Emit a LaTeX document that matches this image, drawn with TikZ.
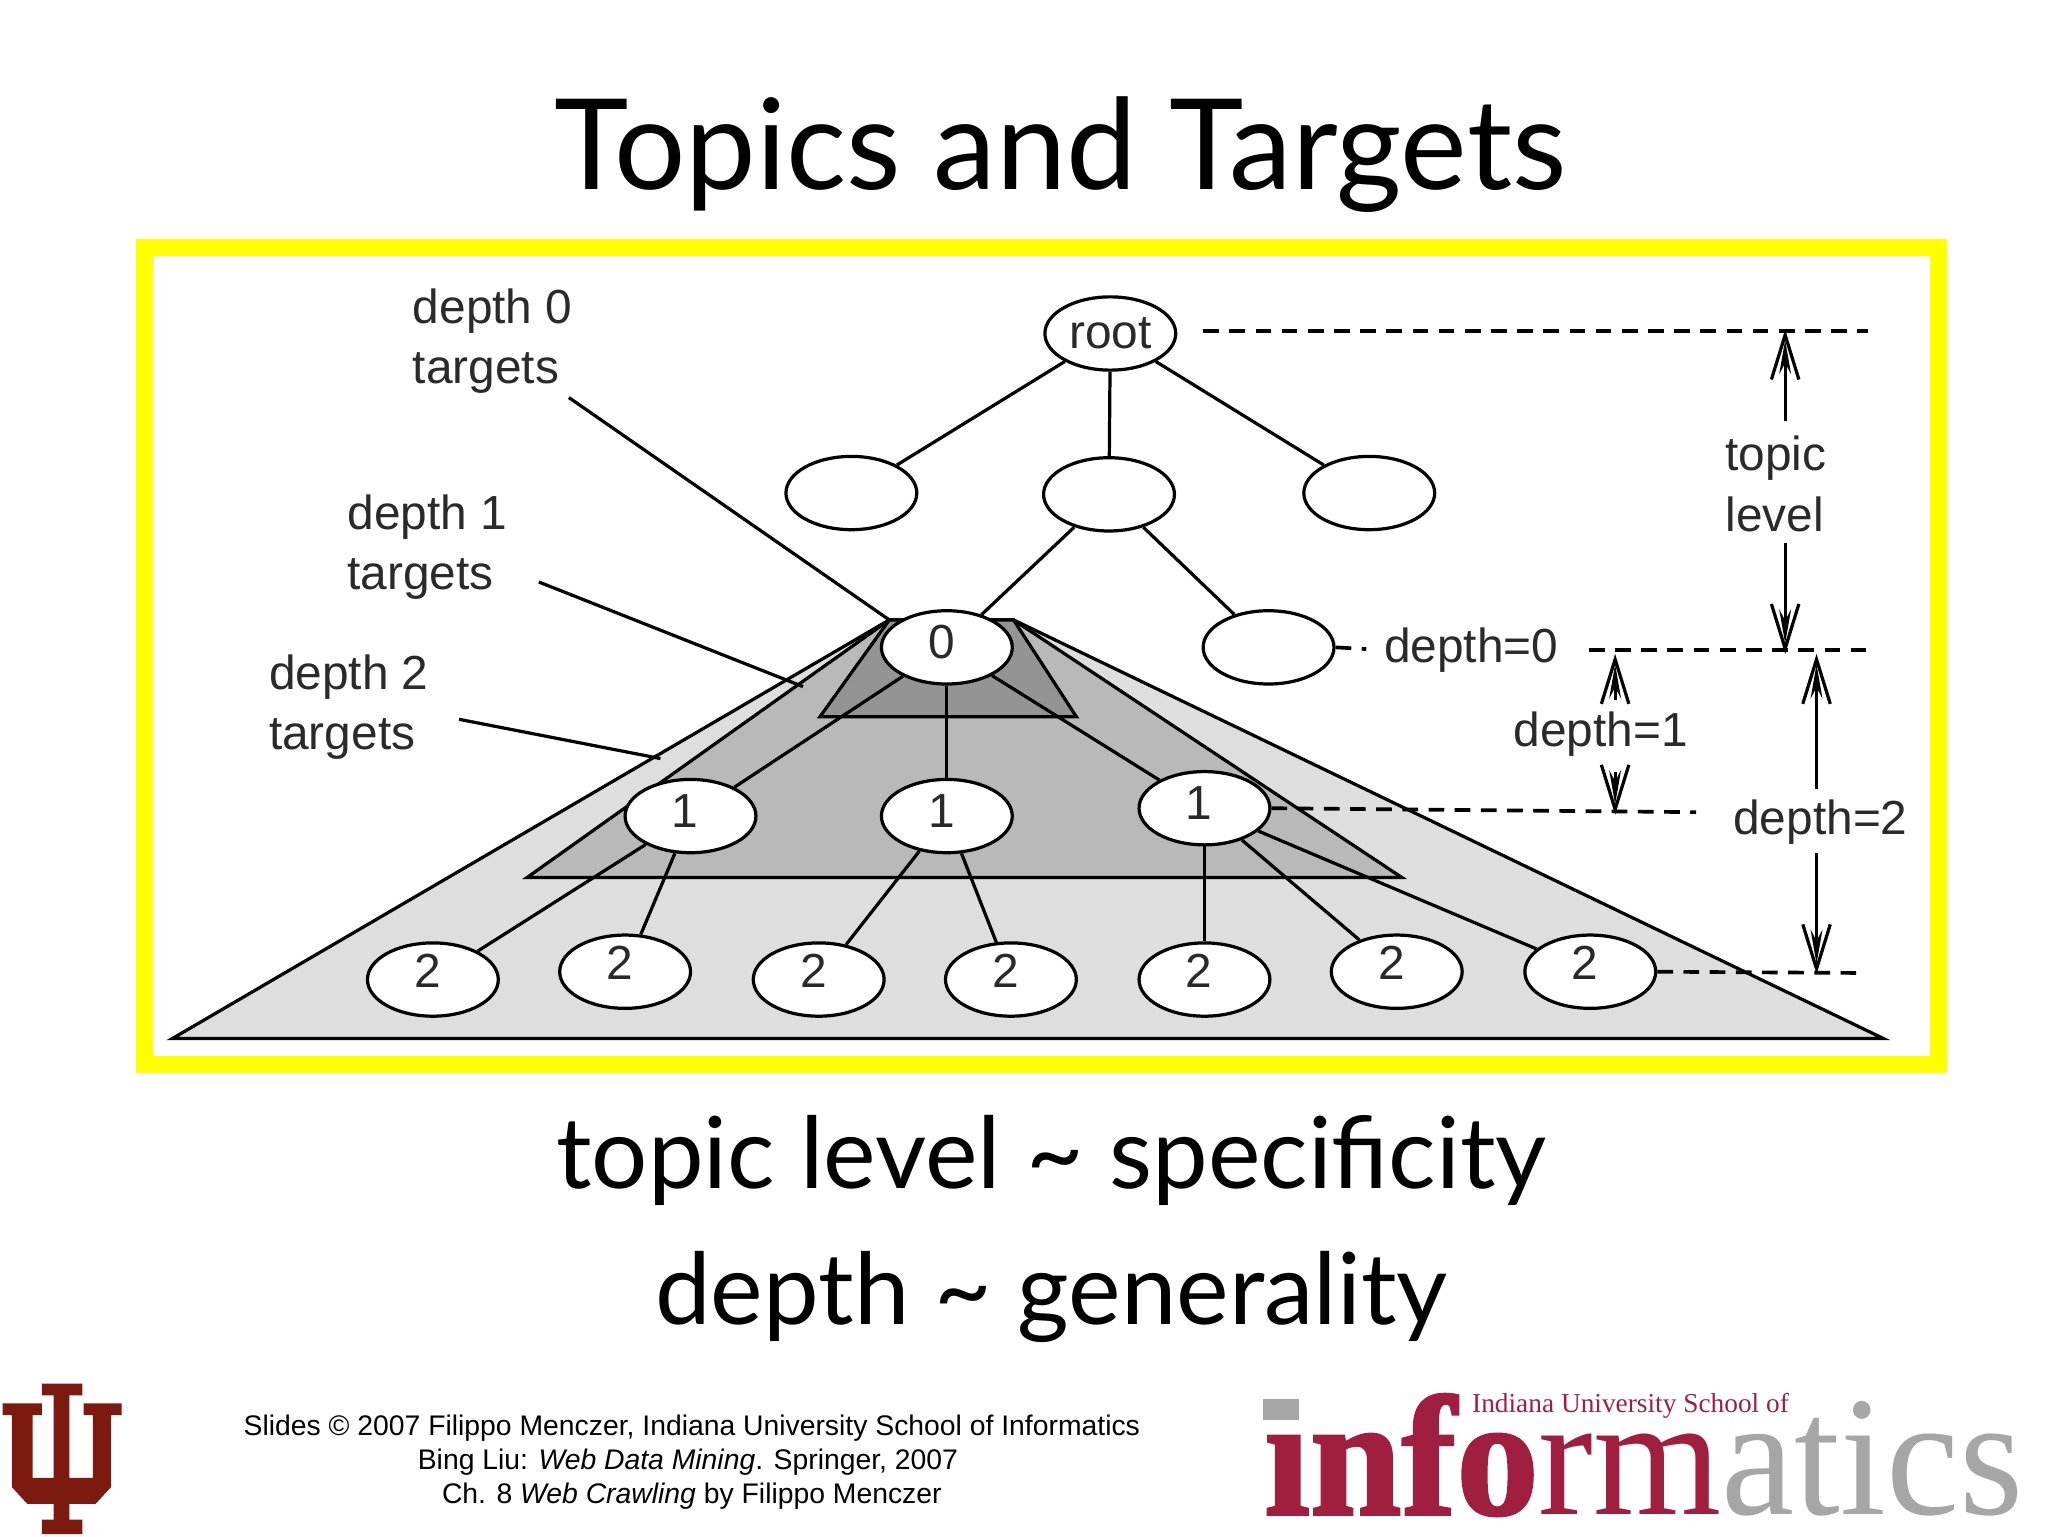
\documentclass[tikz,border=0pt]{standalone}
\usepackage{fontspec}
\usepackage{graphicx}
\setmainfont{Liberation Sans}
\newfontfamily\titlefont{Lato}
\newfontfamily\logofont{Liberation Serif}
\newfontfamily\logoheavy{Liberation Serif Bold}[FakeBold=1.6]
\usetikzlibrary{shapes}
\usetikzlibrary{arrows.meta}
\definecolor{iured}{HTML}{7D1A10}
\definecolor{infored}{HTML}{A01F40}
\definecolor{infogray}{HTML}{A6A6A6}
\definecolor{outergray}{HTML}{DFDEDF}
\definecolor{midgray}{HTML}{B9B9B9}
\definecolor{innergray}{HTML}{949494}
\definecolor{inktext}{HTML}{2A2A2A}
\definecolor{frameyellow}{RGB}{255,255,0}
\newcommand{\nodedigit}[1]{\raisebox{.8mm}{\hspace{-.8mm}#1}}
\newcommand{\nodetwo}{\raisebox{1.3mm}{\hspace{-.8mm}2}}
\tikzset{treenode/.style={ellipse,draw,fill=white,minimum width=1cm,minimum height=.56cm,inner sep=0pt,line width=.7pt,font=\fontsize{10.4}{12}\selectfont,text=inktext},
 treeline/.style={line width=.7pt},
 leader/.style={line width=.7pt},
 level line/.style={line width=.8pt,dash pattern=on 1.2mm off .8mm},
 size arrow/.style={line width=.7pt,-{Straight Barb[length=3.4mm,width=2.1mm,sep=-3.4mm]Stealth[length=2.6mm,width=.9mm]}},
 side text/.style={font=\fontsize{10.4}{13.05}\selectfont,text=inktext,align=left,inner sep=0pt},
 big text/.style={font=\titlefont\fontsize{21.6}{24}\selectfont,inner sep=0pt},
 foot text/.style={font=\fontsize{6.16}{7}\selectfont,inner sep=0pt},
 }

\begin{document}
\begin{tikzpicture}[x=.01cm,y=-.01cm]
        \useasboundingbox (0,0) rectangle (1566,1175);

        \node [big text,font=\titlefont\fontsize{27.4}{30}\selectfont] (title) at (811,118) {Topics and Targets};
        \draw [frameyellow,line width=.13cm] (110.5,189.5) rectangle (1482.5,814);

        % nested target triangles
        \draw [fill=outergray,treeline] (132,794) -- (1440,794) -- (775,474) -- (680,474) -- cycle;
        \draw [fill=midgray,treeline] (403,671) -- (1072,671) -- (775,474) -- (680,474) -- cycle;
        \draw [fill=innergray,treeline] (627,548) -- (823,548) -- (775,474) -- (680,474) -- cycle;

        % topic tree
        \node [treenode] (root) at (849,255) {root};
        \node [treenode] (topicl) at (651,377) {};
        \node [treenode] (topicm) at (848,378) {};
        \node [treenode] (topicr) at (1047,377) {};
        \node [treenode] (topicz) at (970,495) {};
        \node [treenode] (zero) at (724,495) {\nodedigit{0}};
        \node [treenode] (onea) at (528,624) {\nodedigit{1}};
        \node [treenode] (oneb) at (724,624) {\nodedigit{1}};
        \node [treenode] (onec) at (921,618) {\nodedigit{1}};
        \node [treenode] (twoa) at (331,749) {\nodetwo};
        \node [treenode] (twob) at (478,743) {\nodetwo};
        \node [treenode] (twoc) at (626,749) {\nodetwo};
        \node [treenode] (twod) at (773,749) {\nodetwo};
        \node [treenode] (twoe) at (921,749) {\nodetwo};
        \node [treenode] (twof) at (1068,743) {\nodetwo};
        \node [treenode] (twog) at (1216,743) {\nodetwo};

        \draw [treeline] (root) -- (topicl);
        \draw [treeline] (root) -- (topicm);
        \draw [treeline] (root) -- (topicr);
        \draw [treeline] (topicm) -- (zero);
        \draw [treeline] (topicm) -- (topicz);
        \draw [treeline] (zero) -- (onea);
        \draw [treeline] (zero) -- (oneb);
        \draw [treeline] (zero) -- (onec);
        \draw [treeline] (onea) -- (twoa);
        \draw [treeline] (onea) -- (twob);
        \draw [treeline] (oneb) -- (twoc);
        \draw [treeline] (oneb) -- (twod);
        \draw [treeline] (onec) -- (twoe);
        \draw [treeline] (onec) -- (twof);
        \draw [treeline] (onec) -- (twog);

        % target labels
        \node [side text,anchor=west] (depth0) at (315,261) {depth 0\\targets};
        \node [side text,anchor=west] (depth1) at (265,418) {depth 1\\targets};
        \node [side text,anchor=west] (depth2) at (205,541) {depth 2\\targets};
        \coordinate (lead0a) at (435,304);
        \coordinate (lead0b) at (680,474);
        \coordinate (lead1a) at (412,445);
        \coordinate (lead1b) at (614,525);
        \coordinate (lead2a) at (351,550);
        \coordinate (lead2b) at (505,580);
        \draw [leader] (lead0a) -- (lead0b);
        \draw [leader] (lead1a) -- (lead1b);
        \draw [leader] (lead2a) -- (lead2b);

        % levels on the right
        \node [side text] (topiclevel) at (1358,370) {topic\\level};
        \node [side text] (lvl0) at (1125,497) {depth=0};
        \node [side text] (lvl1) at (1224,561) {depth=1};
        \node [side text] (lvl2) at (1392,629) {depth=2};
        \coordinate (rootend) at (1428,253);
        \coordinate (rootstart) at (920,253);
        \coordinate (zeroa) at (1215,497);
        \coordinate (zerob) at (1435,497);
        \coordinate (onestop) at (1297,621);
        \coordinate (twostop) at (1427,744);
        \draw [level line] (rootstart) -- (rootend);
        \draw [level line,shorten >=.13cm] (topicz.east) -- (lvl0.west);
        \draw [level line] (zeroa) -- (zerob);
        \draw [level line] (onec.east) -- (onestop);
        \draw [level line] (twog.east) -- (twostop);
        \coordinate (topictop) at (1365,260);
        \coordinate (topictail) at (1365,322);
        \coordinate (topicbot) at (1365,492);
        \coordinate (topicback) at (1365,415);
        \coordinate (d1top) at (1235,508);
        \coordinate (d1tail) at (1235,535);
        \coordinate (d1bot) at (1235,615);
        \coordinate (d1back) at (1235,590);
        \coordinate (d2top) at (1389,508);
        \coordinate (d2tail) at (1389,603);
        \coordinate (d2bot) at (1389,737);
        \coordinate (d2back) at (1389,652);
        \draw [size arrow] (topictail) -- (topictop);
        \draw [size arrow] (topicback) -- (topicbot);
        \draw [size arrow] (d1tail) -- (d1top);
        \draw [size arrow] (d1back) -- (d1bot);
        \draw [size arrow] (d2tail) -- (d2top);
        \draw [size arrow] (d2back) -- (d2bot);

        % lines under the frame
        \node [big text] (specific) at (804,887) {topic level \textasciitilde{} specificity};
        \node [big text] (general) at (804,992) {depth \textasciitilde{} generality};
        \node [foot text] (foota) at (529,1092) {Slides © 2007 Filippo Menczer, Indiana University School of Informatics};
        \node [foot text] (footb) at (526,1118) {Bing Liu: \textit{Web Data Mining}. Springer, 2007};
        \node [foot text] (footc) at (529,1144) {Ch. 8 \textit{Web Crawling} by Filippo Menczer};

        % trident
        \fill [iured] (32,1058) -- (63,1058) -- (63,1067) -- (53,1067) -- (53,1130) -- (71,1130) -- (71,1082) -- (64,1082) -- (64,1073) -- (93,1073) -- (93,1082) -- (85,1082) -- (85,1137) -- (73,1150) -- (53,1150) -- (53,1162) -- (63,1162) -- (63,1173) -- (32,1173) -- (32,1162) -- (41,1162) -- (41,1150) -- (21,1150) -- (9,1137) -- (9,1082) -- (2,1082) -- (2,1073) -- (32,1073) -- (32,1082) -- (25,1082) -- (25,1130) -- (41,1130) -- (41,1067) -- (32,1067) -- cycle;

        % school logo
        \fill [infogray] (966,1070) rectangle (993,1086);
        \node [anchor=south west,inner sep=0pt] (word) at (966,1160) {\resizebox{5.8cm}{.92cm}{{\logoheavy\color{infored}ınfo}{\logofont\color{infored}rm}{\logofont\color{infogray}atics}}};
        \node [anchor=west,inner sep=0pt,text=infored] (school) at (1125,1075) {\resizebox{2.42cm}{!}{\logofont Indiana University School of}};
\end{tikzpicture}
\end{document}
